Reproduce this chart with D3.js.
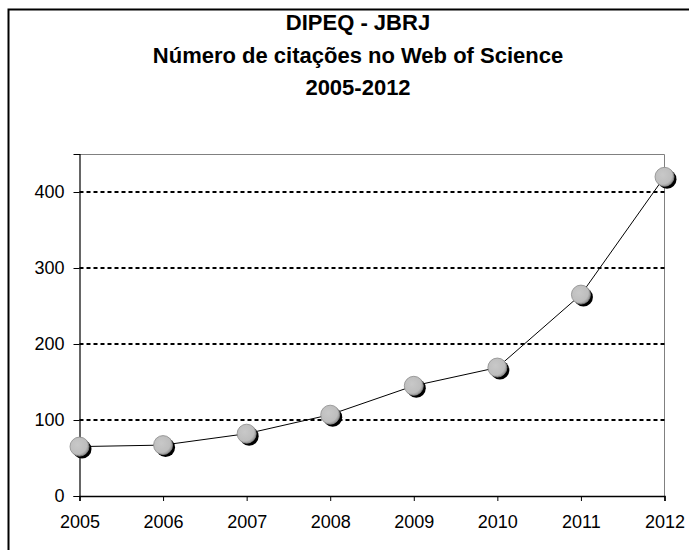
<!DOCTYPE html>
<html>
<head>
<meta charset="utf-8">
<script src="https://cdn.jsdelivr.net/npm/d3@7"></script>
<style>
    body { margin: 0; background: #fff; }
    text { font-family: "Liberation Sans", Arial, sans-serif; }
</style>
</head>
<body>
<div id="chart"></div>
<script>
// ----- data -----
let years = ["2005", "2006", "2007", "2008", "2009", "2010", "2011", "2012"];
let citations = [65, 67, 82, 107, 145, 169, 265, 420];
let yTicks = [0, 100, 200, 300, 400];
let titleLines = ["DIPEQ - JBRJ", "Número de citações no Web of Science", "2005-2012"];

let svgWidth = 689;
let svgHeight = 550;

let margin = { top: 154, right: 24.5, bottom: 54, left: 79.5 };
let width = svgWidth - margin.left - margin.right;
let height = svgHeight - margin.top - margin.bottom;

let svg = d3
    .select("#chart")
    .append("svg")
    .attr("width", svgWidth)
    .attr("height", svgHeight);

// outer frame (runs past the window on right and bottom)
svg.append("rect")
    .attr("x", 8.5)
    .attr("y", 9.5)
    .attr("width", 720)
    .attr("height", 560)
    .attr("fill", "#fff")
    .attr("stroke", "#000")
    .attr("stroke-width", 2);

// title
svg.append("g")
    .selectAll("text")
    .data(titleLines)
    .enter()
    .append("text")
    .attr("x", 358)
    .attr("y", (d, i) => 30 + i * 32.5)
    .attr("text-anchor", "middle")
    .attr("font-weight", "bold")
    .attr("font-size", "22px")
    .attr("fill", "#000")
    .text(d => d);

let x = d3
    .scalePoint()
    .domain(years)
    .range([0, width]);

let y = d3
    .scaleLinear()
    .domain([0, 450])
    .range([height, 0]);

let chart = svg
    .append("g")
    .attr("transform", `translate(${margin.left}, ${margin.top})`);

// plot area border (top/right in gray)
chart.append("path")
    .attr("d", `M0,0.5H${width}V${height}`)
    .attr("fill", "none")
    .attr("stroke", "#808080")
    .attr("stroke-width", 1);

// dotted gridlines
chart.append("g")
    .selectAll("line")
    .data(yTicks.filter(d => d > 0))
    .enter()
    .append("line")
    .attr("x1", 0)
    .attr("x2", width)
    .attr("y1", d => y(d))
    .attr("y2", d => y(d))
    .attr("stroke", "#000")
    .attr("stroke-width", 2)
    .attr("stroke-dasharray", "4,3");

// axes
let axisY = d3.axisLeft(y).tickValues(yTicks).tickSize(6).tickPadding(9);
let axisX = d3.axisBottom(x).tickSize(5).tickPadding(14);

let groupY = chart.append("g").call(axisY);
let groupX = chart.append("g").attr("transform", `translate(0, ${height})`).call(axisX);

[groupY, groupX].forEach(g => {
    g.selectAll("path, line").attr("stroke", "#000");
    g.selectAll("text").attr("font-size", "18px").attr("fill", "#000")
        .attr("font-family", "'Liberation Sans', Arial, sans-serif");
});
groupX.select(".domain").attr("stroke-width", 1.5);
groupY.select(".domain").attr("stroke-width", 1.2);

// series line
let line = d3.line()
    .x((d, i) => x(years[i]))
    .y(d => y(d));

chart.append("path")
    .datum(citations)
    .attr("d", line)
    .attr("fill", "none")
    .attr("stroke", "#000")
    .attr("stroke-width", 1);

// markers with shadow
let defs = svg.append("defs");
let grad = defs.append("radialGradient")
    .attr("id", "ball")
    .attr("cx", "40%")
    .attr("cy", "40%")
    .attr("r", "60%");
grad.append("stop").attr("offset", "0%").attr("stop-color", "#c8c8c8");
grad.append("stop").attr("offset", "80%").attr("stop-color", "#bdbdbd");
grad.append("stop").attr("offset", "100%").attr("stop-color", "#9a9a9a");

let marks = chart.append("g")
    .selectAll("g")
    .data(citations)
    .enter()
    .append("g")
    .attr("transform", (d, i) => `translate(${x(years[i])}, ${y(d)})`);

marks.append("circle")
    .attr("cx", 2.5)
    .attr("cy", 2.5)
    .attr("r", 9.5)
    .attr("fill", "#000");

marks.append("circle")
    .attr("r", 9.5)
    .attr("fill", "url(#ball)")
    .attr("stroke", "#8a8a8a")
    .attr("stroke-width", 0.8);
</script>
</body>
</html>
